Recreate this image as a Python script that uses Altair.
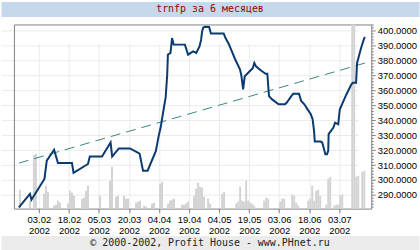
import altair as alt
import pandas as pd

# ---------------- data ----------------
title_text = "trnfp за 6 месяцев"
footer_text = "© 2000-2002, Profit House - www.PHnet.ru"

price_times = [
    "2002-01-24T00:00", "2002-01-29T12:00", "2002-01-30T06:00", "2002-02-05T18:00",
    "2002-02-06T22:00", "2002-02-10T14:00", "2002-02-12T12:00", "2002-02-19T12:00",
    "2002-02-20T07:00", "2002-02-27T12:00", "2002-02-28T10:00", "2002-03-06T12:00",
    "2002-03-10T19:00", "2002-03-11T14:00", "2002-03-14T22:00", "2002-03-20T12:00",
    "2002-03-25T07:00", "2002-03-27T00:00", "2002-03-29T07:00", "2002-04-02T10:00",
    "2002-04-04T00:00", "2002-04-04T19:00", "2002-04-06T10:00", "2002-04-07T07:00",
    "2002-04-08T02:00", "2002-04-08T10:00", "2002-04-09T17:00", "2002-04-10T12:00",
    "2002-04-11T07:00", "2002-04-16T22:00", "2002-04-18T12:00", "2002-04-21T00:00",
    "2002-04-22T14:00", "2002-04-24T05:00", "2002-04-25T00:00", "2002-04-25T12:00",
    "2002-04-26T02:00", "2002-04-27T02:00", "2002-04-29T00:00", "2002-04-29T22:00",
    "2002-05-06T07:00", "2002-05-07T02:00", "2002-05-08T17:00", "2002-05-12T00:00",
    "2002-05-14T10:00", "2002-05-15T02:00", "2002-05-16T00:00", "2002-05-16T19:00",
    "2002-05-18T10:00", "2002-05-20T19:00", "2002-05-21T14:00", "2002-05-22T10:00",
    "2002-05-24T19:00", "2002-05-27T05:00", "2002-05-28T02:00", "2002-05-28T22:00",
    "2002-05-30T12:00", "2002-06-02T17:00", "2002-06-05T22:00", "2002-06-06T17:00",
    "2002-06-09T02:00", "2002-06-10T00:00", "2002-06-12T22:00", "2002-06-14T00:00",
    "2002-06-15T14:00", "2002-06-17T05:00", "2002-06-18T19:00", "2002-06-19T17:00",
    "2002-06-20T10:00", "2002-06-20T19:00", "2002-06-23T17:00", "2002-06-24T12:00",
    "2002-06-26T02:00", "2002-06-26T22:00", "2002-06-27T12:00", "2002-06-27T17:00",
    "2002-06-30T02:00", "2002-06-30T22:00", "2002-07-02T12:00", "2002-07-03T07:00",
    "2002-07-06T14:00", "2002-07-09T00:00", "2002-07-09T19:00", "2002-07-11T10:00",
    "2002-07-11T22:00", "2002-07-13T22:00", "2002-07-15T12:00", "2002-07-16T00:00",
]
price_values = [
    281.7, 290.7, 286.7, 300.7,
    312.9, 320.2, 311.3, 311.3,
    304.7, 310.7, 315.7, 315.7,
    325.1, 315.7, 321.1, 321.1,
    317.7, 306.2, 306.2, 319.5,
    330.7, 335.1, 348.4, 355.1,
    370.7, 384.0, 385.1, 395.1,
    390.7, 390.7, 384.0, 386.2,
    385.1, 389.5, 394.0, 399.5,
    402.2, 402.7, 402.5, 398.2,
    398.2, 395.5, 391.5, 380.9,
    374.2, 370.2, 360.7, 369.5,
    371.7, 374.9, 378.4, 376.2,
    373.5, 371.2, 371.2, 356.2,
    354.0, 350.7, 350.7, 351.7,
    356.2, 357.7, 357.7, 352.9,
    350.7, 347.3, 344.0, 340.7,
    332.9, 325.7, 325.7, 325.1,
    317.3, 317.3, 319.5, 330.7,
    335.1, 338.4, 337.3, 347.3,
    357.3, 364.0, 365.1, 365.1,
    378.4, 388.4, 395.1, 395.7,
]

trend_times = ["2002-01-24T00:00", "2002-07-16T12:00"]
trend_values = [311.3, 378.6]

volume_days = [
    "2002-01-24", "2002-01-29", "2002-01-31", "2002-02-01", "2002-02-05", "2002-02-06",
    "2002-02-07", "2002-02-10", "2002-02-11", "2002-02-12", "2002-02-13", "2002-02-17",
    "2002-02-18", "2002-02-19", "2002-02-20", "2002-02-24", "2002-02-25", "2002-02-26",
    "2002-02-27", "2002-03-05", "2002-03-10", "2002-03-11", "2002-03-13", "2002-03-14",
    "2002-03-17", "2002-03-18", "2002-03-19", "2002-03-23", "2002-03-24", "2002-03-25",
    "2002-03-27", "2002-03-28", "2002-03-31", "2002-04-01", "2002-04-04", "2002-04-05",
    "2002-04-08", "2002-04-09", "2002-04-10", "2002-04-11", "2002-04-15", "2002-04-16",
    "2002-04-17", "2002-04-18", "2002-04-21", "2002-04-22", "2002-04-23", "2002-04-24",
    "2002-04-25", "2002-04-26", "2002-04-28", "2002-04-29", "2002-05-05", "2002-05-06",
    "2002-05-12", "2002-05-13", "2002-05-14", "2002-05-15", "2002-05-16", "2002-05-17",
    "2002-05-18", "2002-05-19", "2002-05-20", "2002-05-21", "2002-05-26", "2002-05-27",
    "2002-05-28", "2002-06-03", "2002-06-04", "2002-06-05", "2002-06-09", "2002-06-10",
    "2002-06-11", "2002-06-12", "2002-06-17", "2002-06-18", "2002-06-19", "2002-06-20",
    "2002-06-21", "2002-06-22", "2002-06-23", "2002-06-26", "2002-06-27", "2002-06-28",
    "2002-06-30", "2002-07-01", "2002-07-02", "2002-07-03", "2002-07-04", "2002-07-09",
    "2002-07-10", "2002-07-11", "2002-07-12", "2002-07-14", "2002-07-15",
]
volume_values = [
    19, 8, 54, 55, 15, 23,
    17, 3, 4, 8, 6, 5,
    18, 16, 13, 10, 11, 18,
    23, 13, 28, 42, 12, 13,
    13, 10, 10, 6, 7, 8,
    3, 2, 5, 6, 25, 27,
    5, 8, 9, 10, 4, 4,
    5, 7, 13, 20, 26, 22,
    21, 12, 10, 5, 15, 17,
    5, 7, 22, 8, 7, 28,
    8, 6, 5, 3, 8, 11,
    10, 7, 10, 10, 14, 13,
    6, 3, 8, 10, 23, 8,
    18, 19, 13, 4, 30, 32,
    3, 4, 4, 13, 14, 185,
    185, 32, 33, 37, 38,
]

x_tick_labels = ["03.02", "18.02", "05.03", "20.03", "04.04", "19.04",
                 "04.05", "19.05", "03.06", "18.06", "03.07"]
x_tick_year = 2002
y_major_labels = [290, 300, 310, 320, 330, 340, 350, 360, 370, 380, 390, 400]

# ---------------- frames ----------------
price_df = pd.DataFrame({"t": price_times, "v": price_values})
trend_df = pd.DataFrame({"t": trend_times, "v": trend_values})
vol_df = pd.DataFrame({"t": [d + "T12:00" for d in volume_days], "v": volume_values})

x_ticks = [alt.DateTime(year=x_tick_year, month=int(s[3:5]), date=int(s[0:2]))
           for s in x_tick_labels]
y_minor = list(range(282, 405, 2))

LABEL_FONT = "Liberation Sans"
GRID = "#EBEBEB"
AXIS_GRAY = "#808080"

# layout of the main panel (panel is 372 x 204; data frame occupies x 13..372, y 0..185)
PANEL_W, PANEL_H = 372, 204
FRAME_LEFT, FRAME_H = 13, 185

xscale = alt.Scale(domain=[alt.DateTime(year=2002, month=1, date=24),
                           alt.DateTime(year=2002, month=7, date=16, hours=12)],
                   range=[FRAME_LEFT, PANEL_W])
xaxis = alt.Axis(values=x_ticks, offset=FRAME_H - PANEL_H, minExtent=0,
                 labelExpr="[timeFormat(datum.value, '%d.%m'), timeFormat(datum.value, '%Y')]",
                 labelFont=LABEL_FONT, labelFontSize=9.5, labelColor="#000000",
                 labelLineHeight=11.5, labelPadding=2, labelAngle=0,
                 tickSize=4, tickColor=AXIS_GRAY, domainColor=AXIS_GRAY,
                 grid=True, gridColor=GRID)
xaxis_top = alt.Axis(orient="top", labels=False, ticks=False, grid=False, minExtent=0,
                     domain=True, domainColor=AXIS_GRAY)

yscale = alt.Scale(domain=[280.8, 404.2], nice=False, zero=False, range=[FRAME_H, 0])
yaxis = alt.Axis(orient="right", values=y_minor, minExtent=0,
                 labelExpr="datum.value % 10 === 0 ? format(datum.value, '.4f') : ''",
                 labelFont=LABEL_FONT, labelFontSize=9.5, labelColor="#000000",
                 labelPadding=2, labelOverlap=False,
                 tickColor=AXIS_GRAY, domainColor=AXIS_GRAY,
                 tickSize={"condition": {"test": "datum.value % 10 === 0", "value": 4}, "value": 2},
                 grid=True, gridColor=GRID,
                 gridOpacity={"condition": {"test": "datum.value % 10 === 0", "value": 1}, "value": 0})

vol = alt.Chart(vol_df).mark_bar(size=2, color="#D3D3D3").encode(
    x=alt.X("t:T", scale=xscale, axis=xaxis, title=None),
    y=alt.Y("v:Q", scale=alt.Scale(domain=[0, 185], nice=False, range=[FRAME_H, 0]), title=None,
            axis=alt.Axis(orient="left", offset=-FRAME_LEFT, labels=False, ticks=False,
                          minExtent=0, grid=False, domain=True, domainColor=AXIS_GRAY)),
)

trend = alt.Chart(trend_df).mark_line(color="#3a8585", strokeWidth=1, strokeDash=[10, 6]).encode(
    x=alt.X("t:T", scale=xscale, axis=xaxis_top, title=None),
    y=alt.Y("v:Q", scale=yscale, axis=yaxis, title=None),
)
price = alt.Chart(price_df).mark_line(color="#0b3a70", strokeWidth=2).encode(
    x=alt.X("t:T", scale=xscale, axis=xaxis_top, title=None),
    y=alt.Y("v:Q", scale=yscale, axis=yaxis, title=None),
)

main = (alt.layer(vol, alt.layer(trend, price))
        .resolve_scale(y="independent")
        .resolve_axis(x="independent")
        .properties(width=PANEL_W, height=PANEL_H,
                    view=alt.ViewBackground(stroke="transparent", fill="#FFFFFF")))

header = alt.Chart(pd.DataFrame({"t": [title_text]})).mark_text(
    font="DejaVu Sans Mono", fontSize=10, color="#990000").encode(text="t:N").properties(
    width=420, height=15, view=alt.ViewBackground(fill="#C6D9EC", stroke="transparent"))

footer = alt.Chart(pd.DataFrame({"t": [footer_text]})).mark_text(
    font="DejaVu Sans Mono", fontSize=10, color="#222222").encode(text="t:N").properties(
    width=420, height=15, view=alt.ViewBackground(fill="#EBEBEB", stroke="transparent"))

chart = alt.vconcat(header, main, footer, spacing=8, bounds="flush").properties(
    padding=0, background="#FFFFFF",
)

chart.save("out.html", embed_options={"renderer": "svg", "actions": False})
